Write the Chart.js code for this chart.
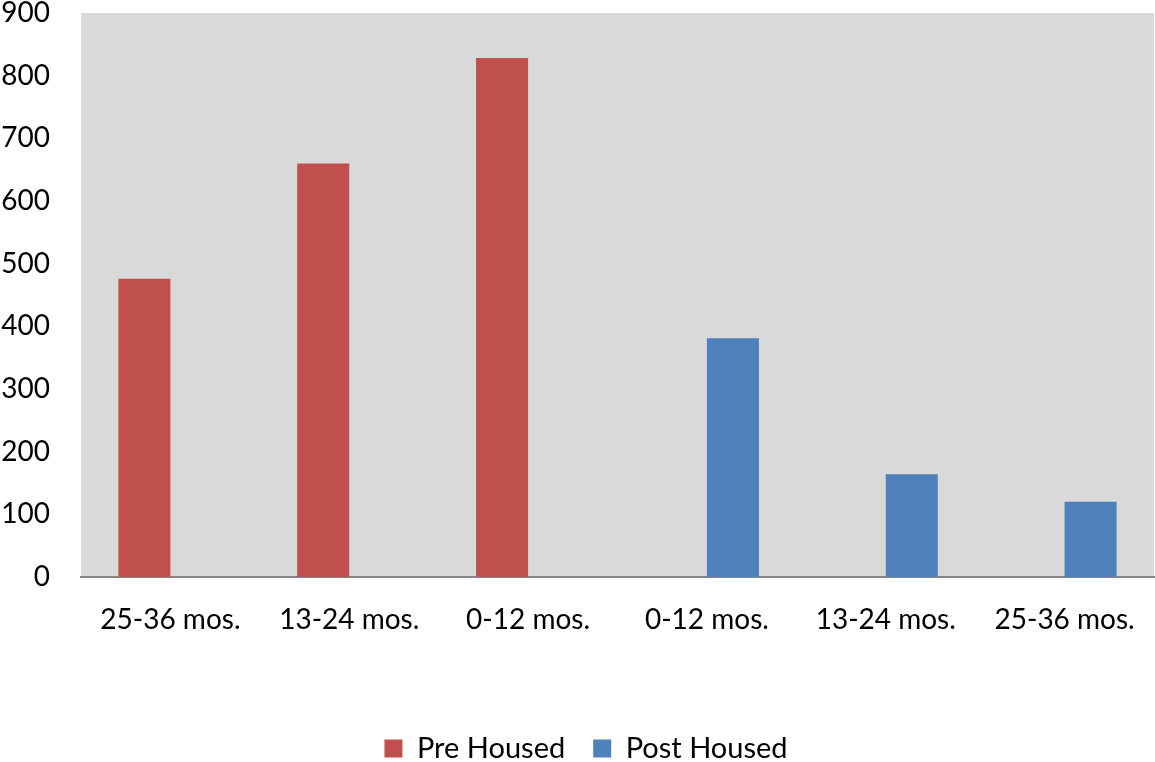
<!DOCTYPE html>
<html>
<head>
<meta charset="utf-8">
<script src="https://cdn.jsdelivr.net/npm/chart.js@4"></script>
<style>
  html, body { margin: 0; padding: 0; background: #fff; }
  #wrap { width: 1155px; height: 762px; }
</style>
</head>
<body>
<div id="wrap"><canvas id="chart" width="1155" height="762"></canvas></div>
<script>
const categories = ["25-36 mos.", "13-24 mos.", "0-12 mos.", "0-12 mos.", "13-24 mos.", "25-36 mos."];
const preHoused = [476, 660, 828, null, null, null];
const postHoused = [null, null, null, 381, 164, 120];
const yTicks = [0, 100, 200, 300, 400, 500, 600, 700, 800, 900];

const FONT = "Lato, 'Open Sans', sans-serif";

// gray plot area behind the bars, and nudge the legend a little right like the original
const plotBackground = {
  id: "plotBackground",
  beforeDraw(chart) {
    const { ctx, chartArea } = chart;
    if (chart.legend) chart.legend.left = 18;
    ctx.save();
    ctx.fillStyle = "#d9d9d9";
    ctx.fillRect(chartArea.left, chartArea.top, chartArea.right - chartArea.left, chartArea.bottom - chartArea.top);
    ctx.restore();
  }
};

new Chart(document.getElementById("chart").getContext("2d"), {
  type: "bar",
  data: {
    labels: categories,
    datasets: [
      { label: "Pre Housed", data: preHoused, backgroundColor: "#c0504d" },
      { label: "Post Housed", data: postHoused, backgroundColor: "#4f81bd" }
    ]
  },
  options: {
    responsive: false,
    animation: false,
    devicePixelRatio: 1,
    categoryPercentage: 0.582,
    barPercentage: 1,
    layout: { padding: { top: 0, right: 1, bottom: -11, left: 0 } },
    plugins: {
      tooltip: { enabled: false },
      legend: {
        position: "bottom",
        labels: {
          color: "#000",
          font: { family: FONT, size: 29 },
          boxWidth: 18,
          boxHeight: 18,
          padding: 28
        }
      }
    },
    scales: {
      x: {
        grid: { display: false, drawTicks: false },
        border: { display: true, color: "#868686", width: 2 },
        ticks: {
          color: "#000",
          font: { family: FONT, size: 28 },
          padding: 26,
          maxRotation: 0,
          autoSkip: false
        },
        afterFit(scale) {
          scale.height = 129;
          scale.paddingLeft = 0;
          scale.paddingRight = 0;
        }
      },
      y: {
        min: 0,
        max: 900,
        afterBuildTicks(scale) { scale.ticks = yTicks.map(v => ({ value: v })); },
        grid: { display: false, drawTicks: false },
        border: { display: false },
        ticks: {
          color: "#000",
          font: { family: FONT, size: 28 },
          padding: 31
        },
        afterFit(scale) {
          scale.width = 81;
          scale.paddingTop = 13;
          scale.paddingBottom = 0;
        }
      }
    }
  },
  plugins: [plotBackground]
});
</script>
</body>
</html>
